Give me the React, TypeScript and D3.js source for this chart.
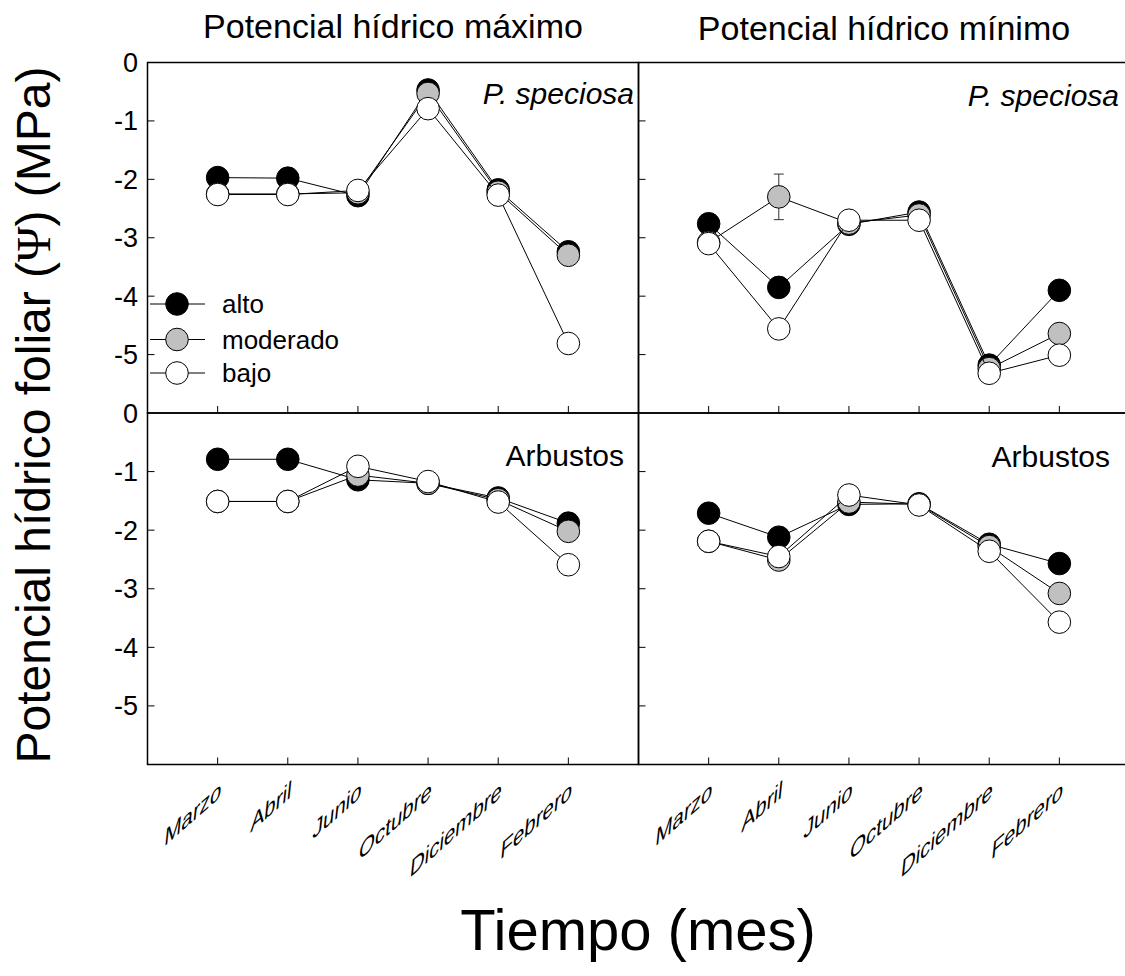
import React from "react";
import * as d3 from "d3";

const months = ["Marzo", "Abril", "Junio", "Octubre", "Diciembre", "Febrero"];
const seriesNames = ["alto", "moderado", "bajo"];
const seriesFills = ["#000000", "#c0c0c0", "#ffffff"];
const yTickValues = [0, -1, -2, -3, -4, -5];

// Potencial hídrico máximo – P. speciosa
const maxSpeciosaAlto = [-1.97, -1.98, -2.28, -0.47, -2.18, -3.24];
const maxSpeciosaModerado = [-2.25, -2.25, -2.23, -0.53, -2.22, -3.3];
const maxSpeciosaBajo = [-2.26, -2.26, -2.19, -0.79, -2.27, -4.81];

// Potencial hídrico mínimo – P. speciosa
const minSpeciosaAlto = [-2.76, -3.85, -2.77, -2.56, -5.18, -3.9];
const minSpeciosaModerado = [-3.08, -2.3, -2.75, -2.61, -5.24, -4.64];
const minSpeciosaBajo = [-3.1, -4.56, -2.7, -2.7, -5.32, -5.01];
const minSpeciosaModeradoErr = [0, 0.39, 0, 0, 0, 0];

// Potencial hídrico máximo – Arbustos
const maxArbAlto = [-0.79, -0.79, -1.14, -1.2, -1.45, -1.88];
const maxArbModerado = [-1.51, -1.51, -1.06, -1.2, -1.48, -2.02];
const maxArbBajo = [-1.51, -1.51, -0.91, -1.17, -1.52, -2.59];

// Potencial hídrico mínimo – Arbustos
const minArbAlto = [-1.71, -2.12, -1.56, -1.55, -2.24, -2.57];
const minArbModerado = [-2.19, -2.51, -1.52, -1.56, -2.28, -3.08];
const minArbBajo = [-2.19, -2.45, -1.4, -1.57, -2.36, -3.57];

const W = 1125;
const H = 976;
const colX = [
  [147.5, 638.5],
  [638.5, 1129.5],
];
const rowY = [
  [62.5, 413],
  [413, 764.5],
];

type Panel = {
  col: number;
  row: number;
  series: number[][];
  err?: number[];
  label: string;
  italic: boolean;
  labelX: number;
  labelY: number;
  legend?: boolean;
};

const panels: Panel[] = [
  { col: 0, row: 0, series: [maxSpeciosaAlto, maxSpeciosaModerado, maxSpeciosaBajo], label: "P. speciosa", italic: true, labelX: 634, labelY: 104, legend: true },
  { col: 1, row: 0, series: [minSpeciosaAlto, minSpeciosaModerado, minSpeciosaBajo], err: minSpeciosaModeradoErr, label: "P. speciosa", italic: true, labelX: 1119, labelY: 106 },
  { col: 0, row: 1, series: [maxArbAlto, maxArbModerado, maxArbBajo], label: "Arbustos", italic: false, labelX: 624, labelY: 466 },
  { col: 1, row: 1, series: [minArbAlto, minArbModerado, minArbBajo], label: "Arbustos", italic: false, labelX: 1110, labelY: 467 },
];

const R = 11.3;
const FONT = "Liberation Sans, Arial, sans-serif";
// slanted month labels: rising baseline, near-vertical glyph strokes
const LABEL_MATRIX = "matrix(0.93,-0.82,-0.12,1.15,0,0)";

function PanelView({ p }: { p: Panel }) {
  const [x0, x1] = colX[p.col];
  const [y0, y1] = rowY[p.row];
  const x = d3.scaleLinear().domain([0, 7]).range([x0, x1]);
  const y = d3.scaleLinear().domain([0, -6]).range([y0, y1]);
  const line = d3
    .line<number>()
    .x((_, i) => x(i + 1))
    .y((v) => y(v));
  return (
    <g>
      <rect x={x0} y={y0} width={x1 - x0} height={y1 - y0} fill="none" stroke="#000" strokeWidth={1.5} />
      {yTickValues.slice(1).map((t) => (
        <line key={"yt" + t} x1={x0} x2={x0 + 7} y1={y(t)} y2={y(t)} stroke="#000" strokeWidth={1} />
      ))}
      {months.map((m, i) => (
        <line key={"xt" + m} x1={x(i + 1)} x2={x(i + 1)} y1={y1} y2={y1 - 7} stroke="#000" strokeWidth={1} />
      ))}
      {p.col === 0 &&
        yTickValues.map((t) => (
          <text key={"yl" + t} x={138} y={y(t) + 9.5} textAnchor="end" fontFamily={FONT} fontSize={27}>
            {t === 0 ? "0" : "-" + Math.abs(t)}
          </text>
        ))}
      {p.series.map((s, si) => (
        <g key={"s" + si}>
          <path d={line(s) || ""} fill="none" stroke="#000" strokeWidth={1} />
          {p.err && si === 1 &&
            s.map((v, i) =>
              p.err![i] > 0 ? (
                <g key={"e" + i} stroke="#333" strokeWidth={1}>
                  <line x1={x(i + 1)} x2={x(i + 1)} y1={y(v + p.err![i])} y2={y(v - p.err![i])} />
                  <line x1={x(i + 1) - 5} x2={x(i + 1) + 5} y1={y(v + p.err![i])} y2={y(v + p.err![i])} />
                  <line x1={x(i + 1) - 5} x2={x(i + 1) + 5} y1={y(v - p.err![i])} y2={y(v - p.err![i])} />
                </g>
              ) : null
            )}
          {s.map((v, i) => (
            <circle key={"c" + i} cx={x(i + 1)} cy={y(v)} r={R} fill={seriesFills[si]} stroke="#000" strokeWidth={1} />
          ))}
        </g>
      ))}
      <text
        x={p.labelX}
        y={p.labelY}
        textAnchor="end"
        fontFamily={FONT}
        fontSize={30}
        fontStyle={p.italic ? "italic" : "normal"}
      >
        {p.label}
      </text>
      {p.legend &&
        seriesNames.map((n, si) => {
          const cy = [304, 339.5, 373][si];
          const cx = 177;
          return (
            <g key={"lg" + n}>
              <line x1={cx - 27} x2={cx + 28} y1={cy} y2={cy} stroke="#000" strokeWidth={1} />
              <circle cx={cx} cy={cy} r={R} fill={seriesFills[si]} stroke="#000" strokeWidth={1} />
              <text x={cx + 45} y={cy + 9} fontFamily={FONT} fontSize={26}>
                {n}
              </text>
            </g>
          );
        })}
      {p.row === 1 &&
        months.map((m, i) => (
          <g key={"ml" + m} transform={`translate(${x(i + 1) + 3},797)`}>
            <text transform={LABEL_MATRIX} textAnchor="end" fontFamily={FONT} fontSize={22}>
              {m}
            </text>
          </g>
        ))}
    </g>
  );
}

export default function App() {
  return (
    <svg
      width={W}
      height={H}
      viewBox={`0 0 ${W} ${H}`}
      style={{ position: "absolute", left: 0, top: 0, background: "#fff" }}
    >
      <rect x={0} y={0} width={W} height={H} fill="#fff" />
      <text x={(colX[0][0] + colX[0][1]) / 2} y={38} textAnchor="middle" fontFamily={FONT} fontSize={34}>
        Potencial hídrico máximo
      </text>
      <text x={(colX[1][0] + colX[1][1]) / 2} y={40} textAnchor="middle" fontFamily={FONT} fontSize={34}>
        Potencial hídrico mínimo
      </text>
      {panels.map((p, i) => (
        <PanelView key={i} p={p} />
      ))}
      <text
        transform={`translate(50,415) rotate(-90)`}
        textAnchor="middle"
        fontFamily={FONT}
        fontSize={48}
      >
        Potencial hídrico foliar (<tspan fontFamily="Liberation Serif, Times New Roman, serif">Ψ</tspan>) (MPa)
      </text>
      <text x={638} y={950} textAnchor="middle" fontFamily={FONT} fontSize={58}>
        Tiempo (mes)
      </text>
    </svg>
  );
}
